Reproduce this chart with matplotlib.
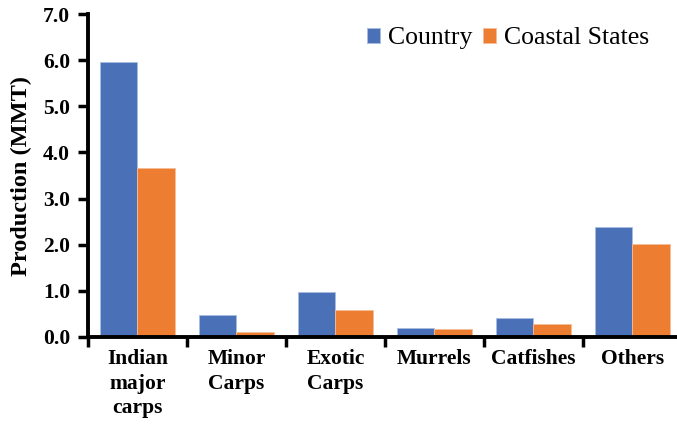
import matplotlib
matplotlib.use("Agg")
import matplotlib.pyplot as plt
import numpy as np

categories = ["Indian\nmajor\ncarps", "Minor\nCarps", "Exotic\nCarps", "Murrels", "Catfishes", "Others"]
country = [5.95, 0.48, 0.98, 0.20, 0.42, 2.39]
coastal = [3.67, 0.11, 0.59, 0.18, 0.28, 2.01]
yticks = [0.0, 1.0, 2.0, 3.0, 4.0, 5.0, 6.0, 7.0]

plt.rcParams['font.family'] = ['Liberation Serif', 'DejaVu Serif']

fig = plt.figure(figsize=(6.77, 4.26), dpi=100)
ax = fig.add_axes([88/677, 1-337/426, 594/677, (337-14)/426])

x = np.arange(len(categories))
w = 0.38
ax.bar(x - w/2, country, w, color='#4a71b8', edgecolor='#a9bde3', linewidth=0.6, label='Country')
ax.bar(x + w/2, coastal, w, color='#ed7d31', edgecolor='#f6bd95', linewidth=0.6, label='Coastal States')

ax.set_xlim(-0.5, len(categories) - 0.5)
ax.set_ylim(0, 7.0)
ax.set_yticks(yticks)
ax.set_yticklabels([f"{v:.1f}" for v in yticks], fontsize=15.5, fontweight='bold')
ax.set_xticks(np.arange(len(categories) + 1) - 0.5, minor=False)
ax.set_xticklabels([])
ax.set_xticks(x, minor=True)
ax.set_xticklabels(categories, minor=True, fontsize=15.5, fontweight='bold', linespacing=1.3, va='top')
ax.tick_params(axis='x', which='minor', length=0, pad=9)
ax.tick_params(axis='x', which='major', length=7, width=2.5, direction='out')
ax.tick_params(axis='y', length=7, width=2.5, direction='out', pad=6)

for s in ['top', 'right']:
    ax.spines[s].set_visible(False)
for s in ['left', 'bottom']:
    ax.spines[s].set_linewidth(2.8)

ax.set_ylabel("Production (MMT)", fontsize=17.5, fontweight='bold', labelpad=8)

leg = ax.legend(loc='upper right', bbox_to_anchor=(0.983, 1.03), ncol=2, frameon=False,
                fontsize=18.5, handlelength=0.52, handleheight=0.52, handletextpad=0.3,
                columnspacing=0.4)

fig.savefig("out.png", dpi=100)
